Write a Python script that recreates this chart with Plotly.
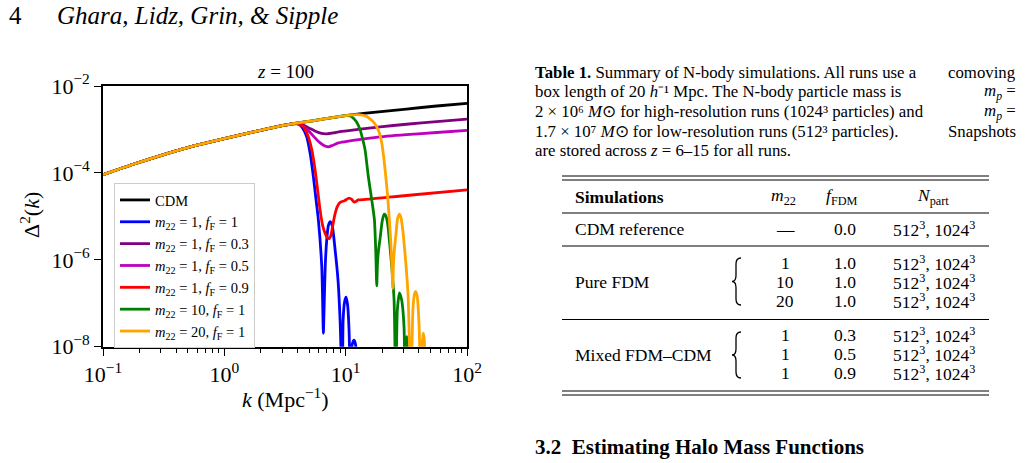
import plotly.graph_objects as go
import numpy as np

W, H = 1025, 463
FONT = "Liberation Serif"

# ---------------- data (log10 k [Mpc^-1], log10 Delta^2) ----------------
cdm_logk = [-1.0, -0.75, -0.5, -0.25, 0.0, 0.25, 0.5, 0.75, 1.0, 1.25, 1.5, 1.75, 2.0]
cdm_logd = [-4.04, -3.80, -3.58, -3.38, -3.21, -3.05, -2.90, -2.79, -2.68, -2.60, -2.53, -2.46, -2.40]

m1f1_logk = [-1.0, -0.75, -0.5, -0.25, 0.0, 0.25, 0.5, 0.60, 0.638, 0.679, 0.707, 0.734, 0.756, 0.775,
             0.803, 0.810, 0.816, 0.824, 0.832, 0.844, 0.857, 0.871, 0.888, 0.913, 0.937, 0.954, 0.972,
             0.979, 0.991, 1.003, 1.016, 1.028, 1.040, 1.053, 1.069, 1.082, 1.094]
m1f1_logd = [-4.04, -3.80, -3.58, -3.38, -3.21, -3.05, -2.90, -2.86, -2.94, -3.17, -3.55, -4.09, -4.62, -5.08,
             -6.16, -6.92, -7.69, -6.92, -6.12, -5.54, -5.22, -5.12, -5.20, -5.77, -6.47, -7.39, -9.0,
             -7.39, -6.97, -6.86, -7.04, -7.62, -9.0, -7.96, -7.85, -7.96, -9.0]

m1f03_logk = [-1.0, -0.75, -0.5, -0.25, 0.0, 0.25, 0.5, 0.60, 0.65, 0.70, 0.75, 0.80, 0.844, 0.90,
              0.954, 1.10, 1.284, 1.5, 1.75, 2.0]
m1f03_logd = [-4.04, -3.80, -3.58, -3.38, -3.21, -3.05, -2.90, -2.86, -2.90, -2.97, -3.04, -3.09, -3.10, -3.08,
              -3.05, -3.00, -2.94, -2.88, -2.82, -2.76]

m1f05_logk = [-1.0, -0.75, -0.5, -0.25, 0.0, 0.25, 0.5, 0.60, 0.65, 0.70, 0.75, 0.79, 0.83, 0.857, 0.89,
              0.94, 1.0, 1.09, 1.25, 1.5, 1.75, 2.0]
m1f05_logd = [-4.04, -3.80, -3.58, -3.38, -3.21, -3.05, -2.90, -2.87, -2.93, -3.05, -3.20, -3.31, -3.38, -3.40, -3.37,
              -3.31, -3.28, -3.24, -3.18, -3.12, -3.07, -3.02]

m1f09_logk = [-1.0, -0.75, -0.5, -0.25, 0.0, 0.25, 0.5, 0.60, 0.651, 0.692, 0.721, 0.748, 0.767, 0.789, 0.811,
              0.835, 0.852, 0.866, 0.880, 0.893, 0.912, 0.930, 0.954, 0.990, 1.028, 1.050, 1.069, 1.085,
              1.102, 1.119, 1.5, 2.0]
m1f09_logd = [-4.04, -3.80, -3.58, -3.38, -3.21, -3.05, -2.90, -2.86, -2.94, -3.17, -3.47, -3.93, -4.35, -4.85, -5.22,
              -5.42, -5.50, -5.51, -5.42, -5.22, -4.95, -4.78, -4.68, -4.64, -4.58, -4.61, -4.67, -4.66,
              -4.62, -4.62, -4.52, -4.39]

m10f1_logk = [-1.0, -0.75, -0.5, -0.25, 0.0, 0.25, 0.5, 0.75, 1.0, 1.04, 1.064, 1.09, 1.119, 1.140, 1.160,
              1.187, 1.215, 1.237, 1.248, 1.256, 1.262, 1.270, 1.284, 1.300, 1.310, 1.319, 1.330, 1.342,
              1.352, 1.380, 1.399, 1.413, 1.426, 1.443, 1.462, 1.481, 1.490, 1.504, 1.517]
m10f1_logd = [-4.04, -3.80, -3.58, -3.38, -3.21, -3.05, -2.90, -2.79, -2.68, -2.69, -2.74, -2.83, -3.01, -3.22, -3.47,
              -4.09, -4.62, -5.08, -5.80, -6.60, -6.10, -5.80, -5.50, -5.13, -5.00, -4.95, -4.98, -5.10,
              -5.31, -6.16, -6.93, -9.0, -7.16, -6.76, -6.93, -7.54, -9.0, -7.77, -9.0]

m20f1_logk = [-1.0, -0.75, -0.5, -0.25, 0.0, 0.25, 0.5, 0.75, 1.0, 1.10, 1.174, 1.21, 1.235, 1.256, 1.28,
              1.298, 1.312, 1.325, 1.344, 1.360, 1.372, 1.382, 1.388, 1.394, 1.402, 1.415, 1.428, 1.443,
              1.455, 1.468, 1.495, 1.515, 1.537, 1.555, 1.568, 1.578, 1.590, 1.605, 1.619, 1.633, 1.640,
              1.648, 1.660]
m20f1_logd = [-4.04, -3.80, -3.58, -3.38, -3.21, -3.05, -2.90, -2.79, -2.68, -2.66, -2.70, -2.78, -2.85, -2.94, -3.10,
              -3.32, -3.60, -3.93, -4.47, -5.08, -5.60, -6.20, -6.66, -6.10, -5.75, -5.40, -5.05, -4.95,
              -5.02, -5.25, -6.05, -6.85, -9.0, -7.10, -6.78, -6.73, -6.85, -7.50, -9.0, -7.85, -7.69,
              -7.85, -9.0]

series = [
    ("CDM", "#000000", cdm_logk, cdm_logd),
    ("<i>m</i><sub>22</sub> = 1, <i>f</i><sub>F</sub> = 1", "#0000ff", m1f1_logk, m1f1_logd),
    ("<i>m</i><sub>22</sub> = 1, <i>f</i><sub>F</sub> = 0.3", "#800080", m1f03_logk, m1f03_logd),
    ("<i>m</i><sub>22</sub> = 1, <i>f</i><sub>F</sub> = 0.5", "#bf00bf", m1f05_logk, m1f05_logd),
    ("<i>m</i><sub>22</sub> = 1, <i>f</i><sub>F</sub> = 0.9", "#ff0000", m1f09_logk, m1f09_logd),
    ("<i>m</i><sub>22</sub> = 10, <i>f</i><sub>F</sub> = 1", "#008000", m10f1_logk, m10f1_logd),
    ("<i>m</i><sub>22</sub> = 20, <i>f</i><sub>F</sub> = 1", "#ffa500", m20f1_logk, m20f1_logd),
]

x_tickvals = [0.1, 1, 10, 100]
x_ticktext = ["10<sup>−1</sup>", "10<sup>0</sup>", "10<sup>1</sup>", "10<sup>2</sup>"]
y_tickvals = [1e-8, 1e-6, 1e-4, 1e-2]
y_ticktext = ["10<sup>−8</sup>", "10<sup>−6</sup>", "10<sup>−4</sup>", "10<sup>−2</sup>"]
x_minor = [m * 10.0 ** e for e in (-1, 0, 1) for m in range(2, 10)]

# ---------------- figure ----------------
def PX(x):
    return x / W

def PY(y):
    return 1 - y / H

fig = go.Figure()
for name, color, lk, ld in series:
    fig.add_trace(go.Scatter(
        x=np.power(10.0, lk), y=np.power(10.0, ld), mode="lines", name=name,
        line=dict(color=color, width=2.8, shape="spline", smoothing=0.6),
    ))

axis_common = dict(type="log", showgrid=False, zeroline=False, showline=True, mirror=True,
                   linecolor="black", linewidth=1.6, ticks="outside", tickcolor="black",
                   tickwidth=1.3, ticklen=7, automargin=False,
                   tickfont=dict(family=FONT, size=22, color="black"))

fig.update_layout(
    width=W, height=H, margin=dict(l=0, r=0, t=0, b=0, pad=0, autoexpand=False),
    paper_bgcolor="white", plot_bgcolor="white",
    xaxis=dict(domain=[PX(103), PX(467)], range=[-1, 2], tickmode="array",
               tickvals=x_tickvals, ticktext=x_ticktext,
               minor=dict(tickmode="array", tickvals=x_minor, ticks="outside", ticklen=4,
                          tickwidth=1, tickcolor="black", showgrid=False),
               **axis_common),
    yaxis=dict(domain=[PY(346.7), PY(86)], range=[-8, -2], tickmode="array",
               tickvals=y_tickvals, ticktext=y_ticktext, **axis_common),
    showlegend=True,
    legend=dict(x=PX(114), y=PY(183), xanchor="left", yanchor="top",
                bgcolor="rgba(255,255,255,0.85)", bordercolor="#cccccc", borderwidth=1,
                font=dict(family=FONT, size=14.5, color="black"), tracegroupgap=0),
)

ann = []
def text(x, y, s, size=17, xanchor="left", **kw):
    ann.append(dict(x=PX(x), y=PY(y), xref="paper", yref="paper", text=s, showarrow=False,
                    xanchor=xanchor, yanchor="middle",
                    font=dict(family=FONT, size=size, color="black"), **kw))

# page header
text(7, 16, "4", size=25)
text(55, 16, "<i>Ghara, Lidz, Grin, &amp; Sipple</i>", size=25)

# plot texts
text(285, 71, "<i>z</i> = 100", size=19, xanchor="center")
text(285, 398, "<i>k</i> (Mpc<sup>−1</sup>)", size=22, xanchor="center")
ann.append(dict(x=PX(30), y=PY(215), xref="paper", yref="paper", text="Δ<sup>2</sup>(<i>k</i>)",
                showarrow=False, textangle=-90, xanchor="center", yanchor="middle",
                font=dict(family=FONT, size=22, color="black")))

# caption (approximately justified)
CS = 16.8
cap_left = [
    "<b>Table 1.</b> Summary of N-body simulations. All runs use a",
    "box length of 20 <i>h</i>⁻¹ Mpc. The N-body particle mass is",
    "2 × 10⁶ <i>M</i>⊙ for high-resolution runs (1024³ particles) and",
    "1.7 × 10⁷ <i>M</i>⊙ for low-resolution runs (512³ particles).",
    "are stored across <i>z</i> = 6–15 for all runs.",
]
cap_right = ["comoving", "<i>m<sub>p</sub></i> =", "<i>m<sub>p</sub></i> =", "Snapshots", ""]
cap_y = [72.5, 91.5, 111.5, 131, 150.5]
for l, r, y in zip(cap_left, cap_right, cap_y):
    text(533, y, l, size=CS)
    if r:
        text(1018, y, r, size=CS, xanchor="right")

# table
shapes = []
def hline(y, w=1.0):
    shapes.append(dict(type="line", xref="paper", yref="paper", x0=PX(562), x1=PX(989),
                       y0=PY(y), y1=PY(y), line=dict(color="black", width=w)))
for y in (176, 180, 213, 246, 319.5, 391, 395):
    hline(y)

def brace(xr, yt, yb):
    ym = (yt + yb) / 2
    xm = xr - 5
    xt = xr - 9
    pts = [(xr, yt), (xm, yt), (xm, yt + 6), (xm, ym - 6), (xm, ym), (xt, ym), (xm, ym), (xm, ym + 6),
           (xm, yb - 6), (xm, yb), (xr, yb)]
    p = lambda q: f"{PX(q[0])},{PY(q[1])}"
    path = (f"M {p(pts[0])} Q {p(pts[1])} {p(pts[2])} L {p(pts[3])} Q {p(pts[4])} {p(pts[5])} "
            f"Q {p(pts[6])} {p(pts[7])} L {p(pts[8])} Q {p(pts[9])} {p(pts[10])}")
    shapes.append(dict(type="path", xref="paper", yref="paper", path=path,
                       line=dict(color="black", width=1.3)))
brace(741, 258, 305)
brace(741, 332, 378)

TS = 17.5
text(573, 197, "<b>Simulations</b>", size=TS)
text(783, 197, "<i>m</i><sub>22</sub>", size=TS, xanchor="center")
text(842, 197, "<i>f</i><sub>FDM</sub>", size=TS, xanchor="center")
text(933, 197, "<i>N</i><sub>part</sub>", size=TS, xanchor="center")

text(573, 229, "CDM reference", size=TS)
text(573, 281.5, "Pure FDM", size=TS)
text(573, 355, "Mixed FDM–CDM", size=TS)

rows_m22 = ["—", "1", "10", "20", "1", "1", "1"]
rows_f = ["0.0", "1.0", "1.0", "1.0", "0.3", "0.5", "0.9"]
rows_y = [229, 263, 281.5, 300.5, 334.5, 353.5, 372.5]
npart = "512<sup>3</sup>, 1024<sup>3</sup>"
for m, f, y in zip(rows_m22, rows_f, rows_y):
    text(785, y, m, size=TS, xanchor="center")
    text(845, y, f, size=TS, xanchor="center")
    text(934, y, npart, size=TS, xanchor="center")

text(533, 447, "<b>3.2  Estimating Halo Mass Functions</b>", size=21)

fig.update_layout(annotations=ann, shapes=shapes)
fig.write_html("out.html")
